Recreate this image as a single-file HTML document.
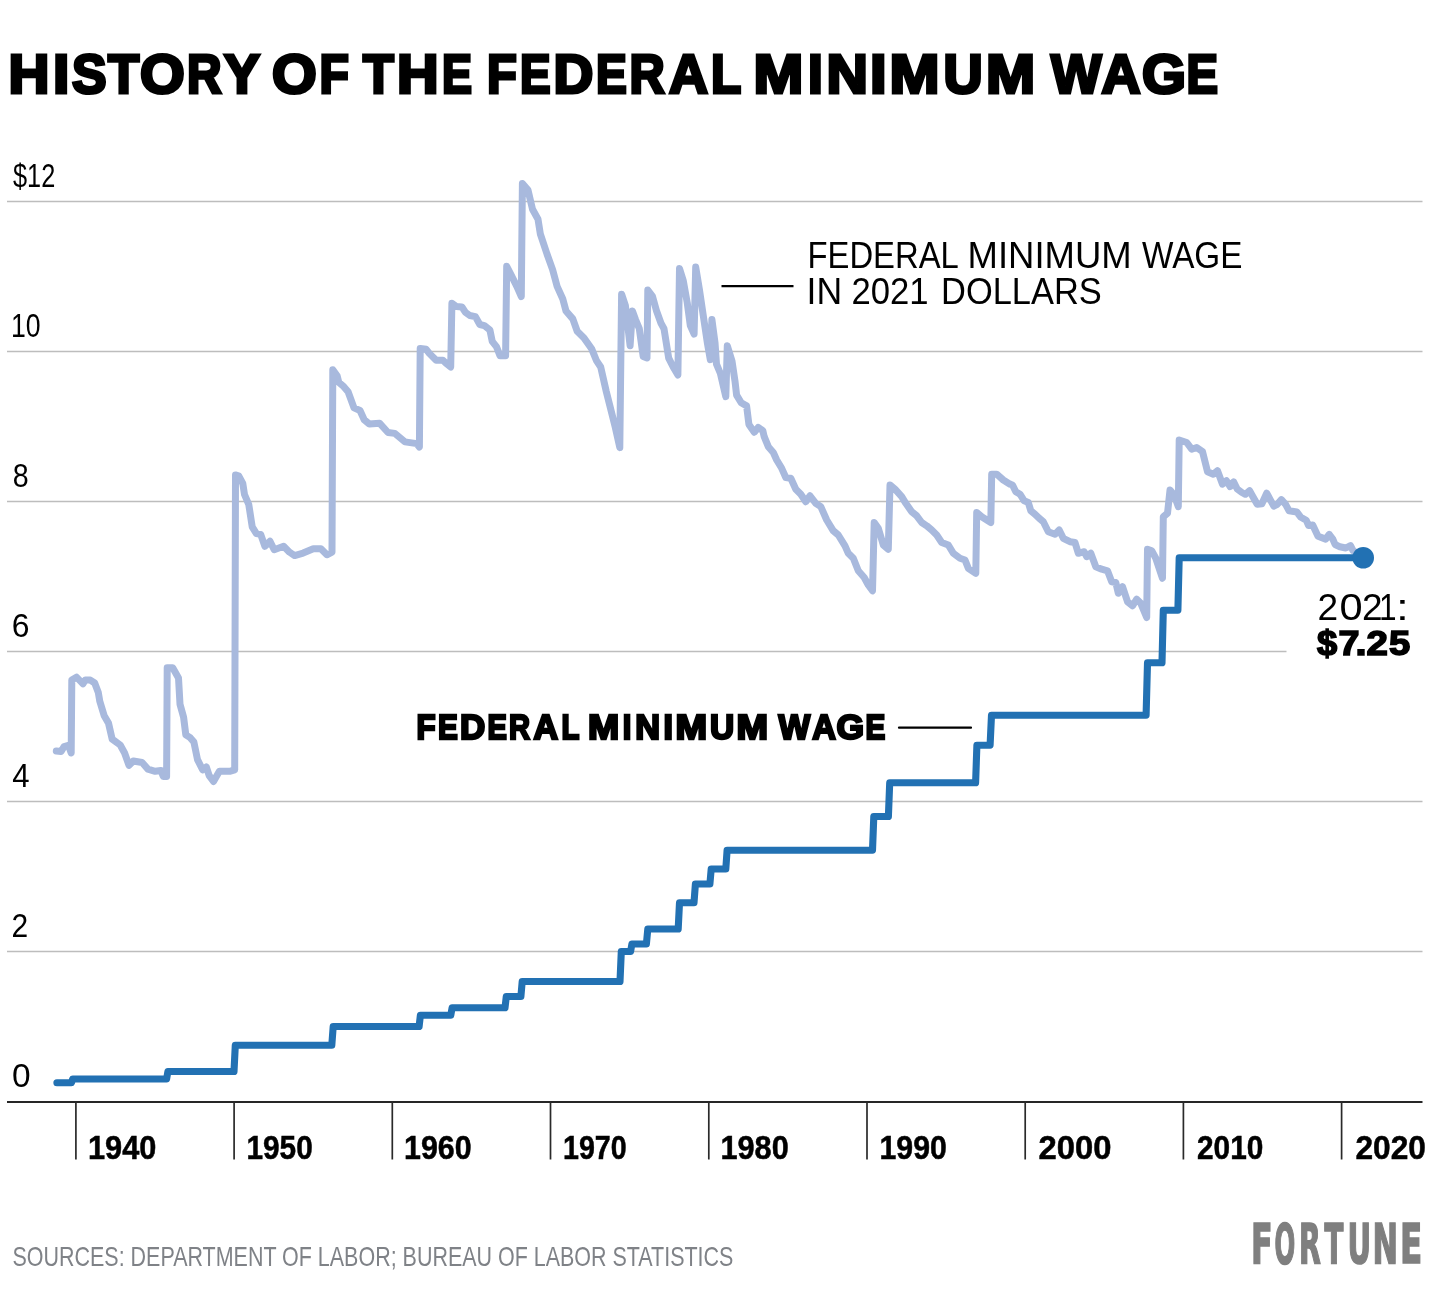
<!DOCTYPE html>
<html><head><meta charset="utf-8"><title>History of the Federal Minimum Wage</title>
<style>
html,body{margin:0;padding:0;background:#fff;}
body{width:1440px;height:1296px;overflow:hidden;}
svg{display:block;will-change:transform;}
text{font-family:"Liberation Sans", Arial, sans-serif;}
.g{stroke:#bdbdbd;stroke-width:1.5;}
.tk{stroke:#2a2a2a;stroke-width:1.7;}
</style></head>
<body>
<svg width="1440" height="1296" viewBox="0 0 1440 1296">
<rect width="1440" height="1296" fill="#fff"/>
<line x1="7" y1="201.5" x2="1422.5" y2="201.5" class="g"/>
<line x1="7" y1="351.5" x2="1422.5" y2="351.5" class="g"/>
<line x1="7" y1="501.5" x2="1422.5" y2="501.5" class="g"/>
<line x1="7" y1="651.5" x2="1286.5" y2="651.5" class="g"/>
<line x1="7" y1="801.5" x2="1422.5" y2="801.5" class="g"/>
<line x1="7" y1="951.5" x2="1422.5" y2="951.5" class="g"/>

<line x1="7" y1="1102" x2="1422.5" y2="1102" stroke="#262626" stroke-width="2"/>
<line x1="75.9" y1="1101" x2="75.9" y2="1159.5" class="tk"/>
<line x1="234.1" y1="1101" x2="234.1" y2="1159.5" class="tk"/>
<line x1="392.3" y1="1101" x2="392.3" y2="1159.5" class="tk"/>
<line x1="550.5" y1="1101" x2="550.5" y2="1159.5" class="tk"/>
<line x1="708.8" y1="1101" x2="708.8" y2="1159.5" class="tk"/>
<line x1="867.0" y1="1101" x2="867.0" y2="1159.5" class="tk"/>
<line x1="1025.2" y1="1101" x2="1025.2" y2="1159.5" class="tk"/>
<line x1="1183.4" y1="1101" x2="1183.4" y2="1159.5" class="tk"/>
<line x1="1341.6" y1="1101" x2="1341.6" y2="1159.5" class="tk"/>

<path d="M56.3,751.1 L61.1,751.6 L64.1,746.5 L68.4,745.3 L71.2,753.0 L71.8,680.1 L76.5,677.2 L79.4,680.1 L83.0,683.8 L85.2,680.1 L90.3,680.1 L94.7,683.0 L98.3,692.5 L99.8,701.3 L104.2,715.8 L108.5,723.1 L112.2,739.2 L120.2,745.0 L124.6,753.0 L129.0,765.4 L133.3,761.0 L142.1,762.5 L147.9,769.1 L155.2,771.3 L161.0,770.5 L163.2,776.4 L166.6,776.4 L167.2,667.7 L172.7,667.7 L178.5,677.9 L180.0,704.2 L183.6,717.3 L185.8,734.8 L190.2,737.7 L193.9,742.1 L197.5,759.6 L202.6,769.8 L206.3,766.9 L209.2,775.6 L213.5,781.5 L219.4,771.3 L229.6,771.3 L234.7,769.8 L235.5,475.0 L238.6,475.8 L242.8,483.5 L244.5,494.5 L248.8,504.7 L252.2,526.8 L256.4,533.6 L260.7,534.4 L264.9,546.3 L270.0,541.2 L274.2,549.7 L283.6,546.3 L289.5,552.2 L294.6,555.6 L303.1,553.1 L313.3,548.8 L320.9,548.8 L326.9,554.8 L332.0,552.2 L332.8,369.7 L337.1,375.7 L338.8,382.4 L343.8,386.7 L348.1,391.8 L354.0,407.9 L360.0,410.5 L364.2,419.8 L369.3,424.0 L379.5,423.2 L388.0,432.5 L394.8,433.4 L405.0,441.9 L416.8,443.6 L419.4,447.0 L420.2,348.5 L426.2,349.3 L429.5,353.6 L436.2,360.3 L442.9,360.3 L446.3,363.6 L450.7,367.0 L451.9,303.2 L456.3,306.6 L461.9,307.0 L465.3,312.2 L469.8,315.5 L475.4,316.6 L479.8,324.5 L484.3,325.6 L489.9,330.0 L492.2,341.3 L496.6,346.9 L500.0,355.8 L505.6,355.8 L506.7,266.3 L511.2,275.2 L516.8,286.4 L521.3,296.5 L522.4,183.4 L528.0,190.1 L532.5,209.2 L538.0,219.2 L540.3,233.8 L547.0,254.0 L552.6,269.6 L557.1,286.4 L562.7,298.7 L566.0,311.0 L572.8,318.9 L577.2,331.2 L584.0,337.9 L591.8,349.1 L596.3,360.3 L600.7,367.0 L606.3,391.6 L609.7,405.1 L615.3,427.4 L619.8,447.6 L621.6,294.2 L625.4,305.6 L630.1,345.7 L632.4,311.0 L635.5,319.5 L639.3,328.7 L643.2,356.5 L647.0,358.0 L647.8,290.1 L652.5,296.3 L656.3,310.2 L661.0,323.3 L664.0,328.7 L668.7,358.1 L673.3,367.3 L677.9,375.0 L679.5,268.5 L683.3,280.9 L687.2,302.5 L690.3,325.6 L694.1,334.1 L695.7,267.0 L699.5,290.1 L703.4,316.4 L707.3,342.6 L710.3,359.6 L711.9,319.5 L715.0,342.6 L716.5,364.2 L720.4,373.5 L725.8,396.6 L727.3,345.7 L732.0,361.1 L735.0,381.2 L736.6,395.1 L741.2,402.8 L746.6,405.9 L748.9,424.4 L754.3,432.2 L758.2,427.5 L762.8,430.6 L764.2,436.7 L768.3,446.7 L773.3,452.5 L776.7,460.0 L781.7,468.3 L785.8,477.5 L790.8,478.3 L795.8,489.2 L800.8,494.2 L805.8,501.7 L810.0,495.8 L815.8,503.3 L820.8,506.7 L826.7,520.0 L833.3,530.8 L838.3,535.0 L845.0,545.8 L848.3,553.3 L853.3,558.3 L858.3,570.8 L864.2,577.5 L868.3,585.0 L872.5,590.8 L874.2,522.5 L878.3,528.3 L883.3,545.0 L888.3,549.2 L890.0,485.0 L895.0,489.2 L901.7,496.7 L905.8,503.3 L911.7,511.7 L916.7,515.8 L921.7,522.5 L926.7,525.8 L931.7,530.0 L936.7,535.0 L941.7,542.5 L948.3,545.0 L953.3,553.3 L960.0,558.3 L965.0,560.0 L968.3,568.3 L975.8,573.3 L976.7,512.5 L981.7,516.7 L990.8,522.5 L991.7,474.2 L996.7,474.2 L1003.3,480.0 L1010.0,484.2 L1012.5,485.0 L1015.8,491.7 L1020.0,494.2 L1024.2,500.8 L1028.3,502.5 L1030.8,510.8 L1035.0,514.2 L1039.2,518.3 L1043.3,521.7 L1048.3,531.7 L1055.0,534.2 L1059.2,530.0 L1063.3,538.3 L1070.0,541.7 L1075.0,542.5 L1078.3,553.3 L1084.2,551.7 L1086.7,556.7 L1090.8,553.3 L1095.8,566.7 L1101.7,569.2 L1107.5,570.8 L1111.7,581.7 L1115.8,582.5 L1118.3,593.3 L1122.5,586.7 L1127.5,601.7 L1132.5,605.8 L1136.7,599.2 L1140.8,603.3 L1146.7,617.5 L1147.5,549.2 L1151.7,550.8 L1155.8,558.3 L1162.5,578.3 L1163.3,516.7 L1167.5,513.3 L1170.0,490.0 L1174.2,495.0 L1178.3,506.7 L1179.2,440.0 L1186.7,442.5 L1191.7,449.2 L1196.7,447.5 L1202.5,451.7 L1207.5,471.7 L1213.3,474.2 L1217.5,470.8 L1222.5,484.2 L1226.5,480.7 L1230.1,486.6 L1233.6,481.9 L1237.2,489.0 L1241.9,492.5 L1245.4,494.3 L1249.6,490.7 L1252.5,496.0 L1257.2,504.3 L1261.9,503.7 L1266.7,493.1 L1270.2,499.6 L1273.8,506.1 L1277.3,504.3 L1281.4,499.6 L1285.6,504.3 L1289.1,510.8 L1296.8,512.0 L1300.9,517.3 L1306.2,520.2 L1308.6,525.6 L1312.7,525.0 L1318.0,536.2 L1325.7,539.1 L1329.2,534.4 L1332.8,539.1 L1335.1,544.5 L1339.9,546.8 L1345.8,548.0 L1350.5,545.6 L1352.9,550.4 L1357.0,553.5" fill="none" stroke="#a8b9dd" stroke-width="7" stroke-linejoin="round" stroke-linecap="round"/>
<path d="M56.9,1082.8 L71.4,1082.8 L72.7,1079.0 L166.6,1079.0 L167.9,1071.5 L234.0,1071.5 L235.3,1045.2 L331.8,1045.2 L333.2,1026.5 L419.1,1026.5 L420.4,1015.2 L450.8,1015.2 L452.1,1007.8 L505.0,1007.8 L506.3,996.5 L520.9,996.5 L522.2,981.5 L620.0,981.5 L621.3,951.5 L630.6,951.5 L631.9,944.0 L646.4,944.0 L647.8,929.0 L678.2,929.0 L679.5,902.8 L694.0,902.8 L695.4,884.0 L709.9,884.0 L711.2,869.0 L725.8,869.0 L727.1,850.2 L872.5,850.2 L873.8,816.5 L888.4,816.5 L889.7,782.8 L975.6,782.8 L976.9,745.2 L990.1,745.2 L991.5,715.2 L1146.1,715.2 L1147.5,662.8 L1162.0,662.8 L1163.3,610.2 L1177.9,610.2 L1179.2,557.8 L1363.2,557.8" fill="none" stroke="#2271b3" stroke-width="7.1" stroke-linejoin="round" stroke-linecap="round"/>
<circle cx="1363.2" cy="557.75" r="10.8" fill="#2271b3"/>
<line x1="721.5" y1="286.2" x2="793.5" y2="286.2" stroke="#000" stroke-width="2.2"/>
<line x1="899" y1="727.7" x2="971" y2="727.7" stroke="#000" stroke-width="2.2" stroke-linecap="round"/>
<text y="93.0" font-size="54.8" font-weight="700" fill="#000" stroke="#000" stroke-width="3.2"><tspan x="8.50" textLength="40.95" lengthAdjust="spacingAndGlyphs">H</tspan><tspan x="53.00" textLength="16.38" lengthAdjust="spacingAndGlyphs">I</tspan><tspan x="72.00" textLength="34.55" lengthAdjust="spacingAndGlyphs">S</tspan><tspan x="108.00" textLength="31.19" lengthAdjust="spacingAndGlyphs">T</tspan><tspan x="140.00" textLength="44.70" lengthAdjust="spacingAndGlyphs">O</tspan><tspan x="187.00" textLength="34.57" lengthAdjust="spacingAndGlyphs">R</tspan><tspan x="224.00" textLength="34.89" lengthAdjust="spacingAndGlyphs">Y</tspan> <tspan x="272.00" textLength="44.70" lengthAdjust="spacingAndGlyphs">O</tspan><tspan x="319.50" textLength="29.39" lengthAdjust="spacingAndGlyphs">F</tspan> <tspan x="363.00" textLength="30.81" lengthAdjust="spacingAndGlyphs">T</tspan><tspan x="397.00" textLength="41.59" lengthAdjust="spacingAndGlyphs">H</tspan><tspan x="442.00" textLength="30.01" lengthAdjust="spacingAndGlyphs">E</tspan> <tspan x="487.00" textLength="29.83" lengthAdjust="spacingAndGlyphs">F</tspan><tspan x="520.00" textLength="30.61" lengthAdjust="spacingAndGlyphs">E</tspan><tspan x="553.50" textLength="39.83" lengthAdjust="spacingAndGlyphs">D</tspan><tspan x="596.00" textLength="30.82" lengthAdjust="spacingAndGlyphs">E</tspan><tspan x="629.50" textLength="35.22" lengthAdjust="spacingAndGlyphs">R</tspan><tspan x="669.00" textLength="39.00" lengthAdjust="spacingAndGlyphs">A</tspan><tspan x="711.00" textLength="29.34" lengthAdjust="spacingAndGlyphs">L</tspan> <tspan x="753.50" textLength="49.82" lengthAdjust="spacingAndGlyphs">M</tspan><tspan x="808.00" textLength="14.81" lengthAdjust="spacingAndGlyphs">I</tspan><tspan x="826.50" textLength="41.40" lengthAdjust="spacingAndGlyphs">N</tspan><tspan x="870.00" textLength="16.62" lengthAdjust="spacingAndGlyphs">I</tspan><tspan x="889.50" textLength="50.04" lengthAdjust="spacingAndGlyphs">M</tspan><tspan x="943.50" textLength="39.14" lengthAdjust="spacingAndGlyphs">U</tspan><tspan x="986.00" textLength="49.14" lengthAdjust="spacingAndGlyphs">M</tspan> <tspan x="1051.00" textLength="50.43" lengthAdjust="spacingAndGlyphs">W</tspan><tspan x="1101.50" textLength="39.00" lengthAdjust="spacingAndGlyphs">A</tspan><tspan x="1142.00" textLength="43.92" lengthAdjust="spacingAndGlyphs">G</tspan><tspan x="1186.50" textLength="31.49" lengthAdjust="spacingAndGlyphs">E</tspan></text>
<text y="738.6" font-size="34.3" font-weight="700" fill="#000" stroke="#000" stroke-width="2.4"><tspan x="416.50" textLength="19.09" lengthAdjust="spacingAndGlyphs">F</tspan><tspan x="438.00" textLength="19.80" lengthAdjust="spacingAndGlyphs">E</tspan><tspan x="460.00" textLength="25.23" lengthAdjust="spacingAndGlyphs">D</tspan><tspan x="487.50" textLength="19.37" lengthAdjust="spacingAndGlyphs">E</tspan><tspan x="509.00" textLength="21.03" lengthAdjust="spacingAndGlyphs">R</tspan><tspan x="533.50" textLength="24.61" lengthAdjust="spacingAndGlyphs">A</tspan><tspan x="561.50" textLength="17.39" lengthAdjust="spacingAndGlyphs">L</tspan> <tspan x="588.00" textLength="31.16" lengthAdjust="spacingAndGlyphs">M</tspan><tspan x="622.75" textLength="8.58" lengthAdjust="spacingAndGlyphs">I</tspan><tspan x="635.25" textLength="24.81" lengthAdjust="spacingAndGlyphs">N</tspan><tspan x="663.50" textLength="9.45" lengthAdjust="spacingAndGlyphs">I</tspan><tspan x="675.50" textLength="31.59" lengthAdjust="spacingAndGlyphs">M</tspan><tspan x="710.00" textLength="24.18" lengthAdjust="spacingAndGlyphs">U</tspan><tspan x="736.50" textLength="31.55" lengthAdjust="spacingAndGlyphs">M</tspan> <tspan x="778.50" textLength="31.64" lengthAdjust="spacingAndGlyphs">W</tspan><tspan x="812.25" textLength="23.66" lengthAdjust="spacingAndGlyphs">A</tspan><tspan x="836.50" textLength="27.56" lengthAdjust="spacingAndGlyphs">G</tspan><tspan x="865.50" textLength="19.80" lengthAdjust="spacingAndGlyphs">E</tspan></text>
<text y="1262.9" font-size="56" font-weight="700" fill="#7f7f7f" stroke="#7f7f7f" stroke-width="1.6" style='font-family:"DejaVu Sans Condensed", "DejaVu Sans", sans-serif'><tspan x="1251.00" textLength="21.68" lengthAdjust="spacingAndGlyphs">F</tspan><tspan x="1274.50" textLength="20.73" lengthAdjust="spacingAndGlyphs">O</tspan><tspan x="1299.00" textLength="21.79" lengthAdjust="spacingAndGlyphs">R</tspan><tspan x="1324.50" textLength="18.87" lengthAdjust="spacingAndGlyphs">T</tspan><tspan x="1347.50" textLength="23.58" lengthAdjust="spacingAndGlyphs">U</tspan><tspan x="1372.50" textLength="25.55" lengthAdjust="spacingAndGlyphs">N</tspan><tspan x="1400.00" textLength="22.27" lengthAdjust="spacingAndGlyphs">E</tspan></text>
<text y="620" font-size="37" fill="#000"><tspan x="1317.50" textLength="20.61" lengthAdjust="spacingAndGlyphs">2</tspan><tspan x="1339.50" textLength="23.11" lengthAdjust="spacingAndGlyphs">0</tspan><tspan x="1362.00" textLength="20.60" lengthAdjust="spacingAndGlyphs">2</tspan><tspan x="1379.00" textLength="17.56" lengthAdjust="spacingAndGlyphs">1</tspan><tspan x="1396.00" textLength="12.85" lengthAdjust="spacingAndGlyphs">:</tspan></text>
<text y="655.0" font-size="34.2" font-weight="700" fill="#000" stroke="#000" stroke-width="1.6"><tspan x="1317.00" textLength="20.17" lengthAdjust="spacingAndGlyphs">$</tspan><tspan x="1338.50" textLength="20.94" lengthAdjust="spacingAndGlyphs">7</tspan><tspan x="1355.50" textLength="11.04" lengthAdjust="spacingAndGlyphs">.</tspan><tspan x="1366.50" textLength="21.35" lengthAdjust="spacingAndGlyphs">2</tspan><tspan x="1389.00" textLength="21.24" lengthAdjust="spacingAndGlyphs">5</tspan></text>
<text y="267.7" font-size="37" fill="#000"><tspan x="807.50" textLength="150.10" lengthAdjust="spacingAndGlyphs">FEDERAL</tspan> <tspan x="967.50" textLength="164.18" lengthAdjust="spacingAndGlyphs">MINIMUM</tspan> <tspan x="1142.00" textLength="100.43" lengthAdjust="spacingAndGlyphs">WAGE</tspan></text>
<text y="303.6" font-size="37" fill="#000"><tspan x="806.50" textLength="35.58" lengthAdjust="spacingAndGlyphs">IN</tspan> <tspan x="851.50" textLength="77.11" lengthAdjust="spacingAndGlyphs">2021</tspan> <tspan x="941.00" textLength="160.81" lengthAdjust="spacingAndGlyphs">DOLLARS</tspan></text>
<text x="88.00" y="1159.00" font-size="32.5" font-weight="700" fill="#000" stroke="#000" stroke-width="0.5" textLength="68.34" lengthAdjust="spacingAndGlyphs">1940</text>
<text x="246.50" y="1159.00" font-size="32.5" font-weight="700" fill="#000" stroke="#000" stroke-width="0.5" textLength="66.24" lengthAdjust="spacingAndGlyphs">1950</text>
<text x="404.00" y="1159.00" font-size="32.5" font-weight="700" fill="#000" stroke="#000" stroke-width="0.5" textLength="67.58" lengthAdjust="spacingAndGlyphs">1960</text>
<text x="563.00" y="1159.00" font-size="32.5" font-weight="700" fill="#000" stroke="#000" stroke-width="0.5" textLength="63.73" lengthAdjust="spacingAndGlyphs">1970</text>
<text x="720.50" y="1159.00" font-size="32.5" font-weight="700" fill="#000" stroke="#000" stroke-width="0.5" textLength="68.20" lengthAdjust="spacingAndGlyphs">1980</text>
<text x="879.50" y="1159.00" font-size="32.5" font-weight="700" fill="#000" stroke="#000" stroke-width="0.5" textLength="67.30" lengthAdjust="spacingAndGlyphs">1990</text>
<text x="1038.50" y="1159.00" font-size="32.5" font-weight="700" fill="#000" stroke="#000" stroke-width="0.5" textLength="72.95" lengthAdjust="spacingAndGlyphs">2000</text>
<text x="1197.00" y="1159.00" font-size="32.5" font-weight="700" fill="#000" stroke="#000" stroke-width="0.5" textLength="66.33" lengthAdjust="spacingAndGlyphs">2010</text>
<text x="1355.50" y="1159.00" font-size="32.5" font-weight="700" fill="#000" stroke="#000" stroke-width="0.5" textLength="70.46" lengthAdjust="spacingAndGlyphs">2020</text>
<text x="13.00" y="186.80" font-size="33" fill="#000" textLength="42.21" lengthAdjust="spacingAndGlyphs">$12</text>
<text x="11.00" y="336.80" font-size="33" fill="#000" textLength="29.67" lengthAdjust="spacingAndGlyphs">10</text>
<text x="12.75" y="486.80" font-size="33" fill="#000" textLength="15.92" lengthAdjust="spacingAndGlyphs">8</text>
<text x="11.75" y="636.80" font-size="33" fill="#000" textLength="17.73" lengthAdjust="spacingAndGlyphs">6</text>
<text x="12.25" y="786.80" font-size="33" fill="#000" textLength="17.32" lengthAdjust="spacingAndGlyphs">4</text>
<text x="11.50" y="936.80" font-size="33" fill="#000" textLength="16.68" lengthAdjust="spacingAndGlyphs">2</text>
<text x="12.00" y="1086.80" font-size="33" fill="#000" textLength="18.61" lengthAdjust="spacingAndGlyphs">0</text>
<text x="12.50" y="1265.80" font-size="28" fill="#7f8287" textLength="720.88" lengthAdjust="spacingAndGlyphs">SOURCES: DEPARTMENT OF LABOR; BUREAU OF LABOR STATISTICS</text>
</svg>
</body></html>
